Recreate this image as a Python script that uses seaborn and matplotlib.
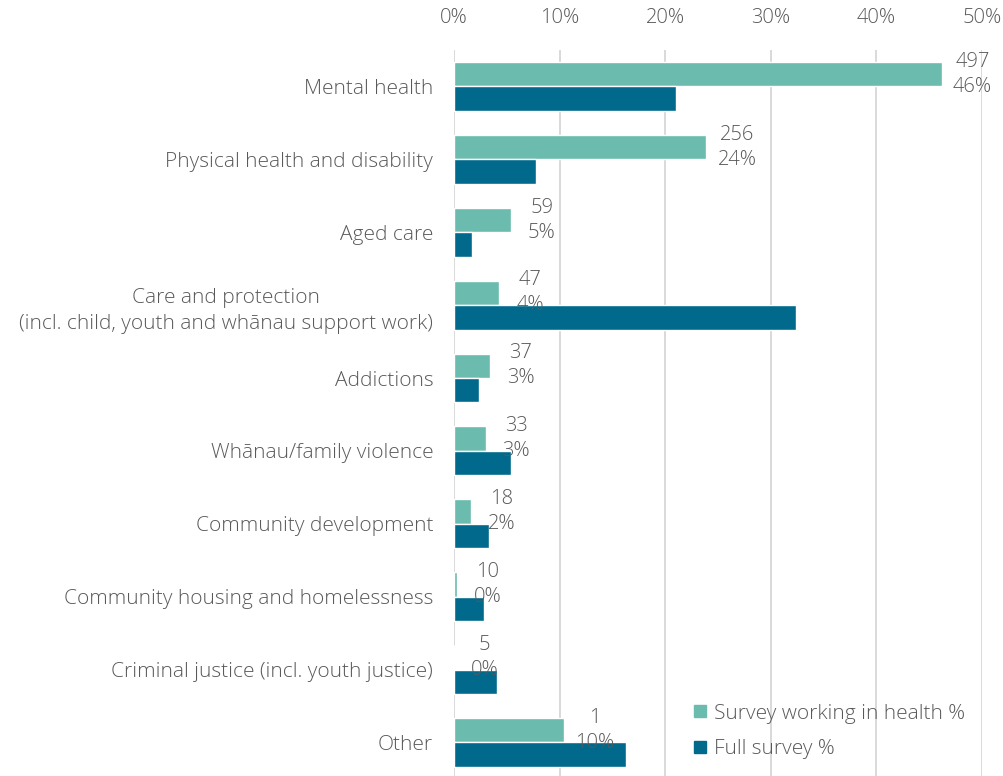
import matplotlib
matplotlib.use("Agg")
import matplotlib.pyplot as plt
import seaborn as sns
import pandas as pd
from matplotlib.lines import Line2D

categories = [
    "Mental health",
    "Physical health and disability",
    "Aged care",
    "Care and protection\n(incl. child, youth and wh\u0101nau support work)",
    "Addictions",
    "Wh\u0101nau/family violence",
    "Community development",
    "Community housing and homelessness",
    "Criminal justice (incl. youth justice)",
    "Other",
]
health_pct = [46.2, 23.9, 5.4, 4.3, 3.4, 3.0, 1.6, 0.3, 0.0, 10.4]
full_pct = [21.0, 7.8, 1.7, 32.4, 2.4, 5.4, 3.3, 2.8, 4.1, 16.3]
health_counts = [497, 256, 59, 47, 37, 33, 18, 10, 5, 1]
series_names = ["Survey working in health %", "Full survey %"]
x_ticks = [0, 10, 20, 30, 40, 50]

palette = ["#6BBBAE", "#00698C"]
text_color = "#595959"

sns.set_theme(style="white")
plt.rcParams["font.family"] = ["Open Sans", "DejaVu Sans"]
plt.rcParams["font.weight"] = "light"

df = pd.DataFrame({
    "category": categories * 2,
    "value": health_pct + full_pct,
    "series": [series_names[0]] * len(categories) + [series_names[1]] * len(categories),
})

fig = plt.figure(figsize=(10.04, 7.76), dpi=100)
ax = fig.add_axes([454 / 1004, 0.0, (982 - 454) / 1004, 726 / 776])

sns.barplot(data=df, y="category", x="value", hue="series", orient="h",
            palette=palette, width=0.67, saturation=1, ax=ax, legend=False,
            order=categories, hue_order=series_names)

ax.set_xlim(0, 50)
ax.set_ylim(9.46, -0.5)
ax.set_xticks(x_ticks)
ax.set_xticklabels([f"{t}%" for t in x_ticks])
ax.xaxis.tick_top()
ax.set_xlabel("")
ax.set_ylabel("")
ax.tick_params(axis="x", length=0, pad=16, labelsize=14.5, colors=text_color)
ax.tick_params(axis="y", length=0, pad=15, labelsize=15, colors=text_color)
for lbl in ax.get_yticklabels():
    lbl.set_multialignment("center")
    lbl.set_linespacing(1.45)

ax.grid(axis="x", color="#d9d9d9", linewidth=1.4)
ax.grid(axis="y", visible=False)
ax.set_axisbelow(True)
for s in ax.spines.values():
    s.set_visible(False)

# value labels beside the health bars: count above, rounded percent below
health_bars = ax.containers[0]
for bar, val, cnt in zip(health_bars, health_pct, health_counts):
    yc = bar.get_y() + bar.get_height() / 2
    ax.annotate(f"{cnt}", xy=(val, yc), xytext=(22, 9), textcoords="offset points",
                ha="center", va="center", fontsize=14.5, color=text_color)
    ax.annotate(f"{round(val):.0f}%", xy=(val, yc), xytext=(22, -9),
                textcoords="offset points", ha="center", va="center",
                fontsize=14.5, color=text_color)

handles = [Line2D([0], [0], marker="s", linestyle="", markersize=9,
                  markerfacecolor=c, markeredgecolor=c) for c in palette]
leg = ax.legend(handles, series_names, loc="lower right", frameon=False,
                fontsize=15, handletextpad=0.2, labelspacing=0.75,
                bbox_to_anchor=(1.0, 0.0), borderaxespad=0.4, handlelength=1.0)
for t in leg.get_texts():
    t.set_color(text_color)

fig.savefig("out.png", dpi=100, facecolor="white")
